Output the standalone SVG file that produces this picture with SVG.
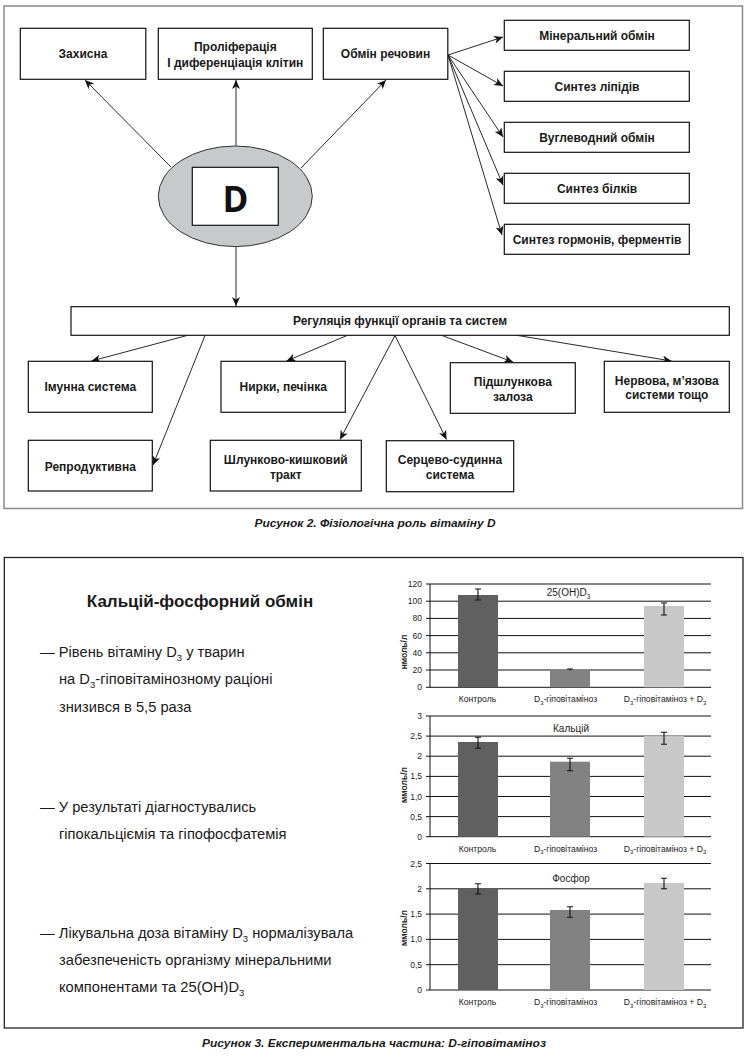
<svg xmlns="http://www.w3.org/2000/svg" width="751" height="1057" viewBox="0 0 751 1057">
<style>
.frame1{fill:none;stroke:#8a8a8a;stroke-width:1.5}
.frame2{fill:none;stroke:#222;stroke-width:1.3}
.box{fill:#fff;stroke:#111;stroke-width:1.2}
.nt{font-family:"Liberation Sans",Arial,sans-serif;font-weight:bold;font-size:12px;fill:#1a1a1a;text-anchor:middle}
.con line{stroke:#111;stroke-width:0.9;marker-end:url(#ah)}
.cap{font-family:"Liberation Sans",Arial,sans-serif;font-weight:bold;font-style:italic;font-size:11.5px;fill:#1a1a1a;text-anchor:middle}
.body{font-family:"Liberation Sans",Arial,sans-serif;font-size:14.7px;fill:#1a1a1a}
.sub{font-size:9.5px}
.grid{stroke:#111;stroke-width:1}
.tick{font-family:"Liberation Sans",Arial,sans-serif;font-size:8.5px;fill:#222;text-anchor:end}
.cat{font-family:"Liberation Sans",Arial,sans-serif;font-size:8.6px;fill:#222;text-anchor:middle}
.cs{font-size:6px}
.ttl{font-family:"Liberation Sans",Arial,sans-serif;font-size:10px;fill:#222;text-anchor:middle}
.ylab{font-family:"Liberation Sans",Arial,sans-serif;font-size:8.5px;font-weight:bold;fill:#222;text-anchor:middle}
.b1{fill:#606060}.b2{fill:#828282}.b3{fill:#c8c8c8}
.err{stroke:#111;stroke-width:1.1;fill:none}
</style>
<defs>
<marker id="ah" markerWidth="10" markerHeight="8" refX="9" refY="4" orient="auto" markerUnits="userSpaceOnUse">
<path d="M0,0 L9,4 L0,8 L2.5,4 z" fill="#111"/>
</marker>
</defs>
<rect x="0" y="0" width="751" height="1057" fill="#fff"/>

<!-- Figure 2 -->
<rect class="frame1" x="4" y="6" width="738.5" height="502.5"/>

<g id="connectors" class="con">
<line x1="171" y1="167" x2="85" y2="80"/>
<line x1="236" y1="146" x2="236" y2="80"/>
<line x1="301" y1="168" x2="386" y2="80"/>
<line x1="448" y1="55" x2="503" y2="37"/>
<line x1="448" y1="55" x2="503" y2="86"/>
<line x1="448" y1="55" x2="503" y2="137"/>
<line x1="448" y1="55" x2="503" y2="185"/>
<line x1="448" y1="55" x2="502" y2="235"/>
<line x1="236" y1="246.5" x2="236" y2="306"/>
<line x1="187" y1="335.5" x2="91.5" y2="361"/>
<line x1="205" y1="335.5" x2="153" y2="465"/>
<line x1="347" y1="335.5" x2="286.5" y2="361"/>
<line x1="395" y1="335.5" x2="340" y2="439.5"/>
<line x1="395" y1="335.5" x2="446.5" y2="439.5"/>
<line x1="442" y1="335.5" x2="513" y2="362"/>
<line x1="518" y1="335.5" x2="671.5" y2="361"/>
</g>

<g id="node-d">
<ellipse cx="235.3" cy="196.3" rx="77" ry="50.3" fill="#c8c9cb" stroke="#333" stroke-width="1"/>
<rect class="box" x="192.3" y="167.3" width="86" height="58"/>
<text x="235.5" y="212" font-family="'Open Sans','Liberation Sans',Arial,sans-serif" font-weight="bold" font-size="35" fill="#111" text-anchor="middle">D</text>
</g>
<g id="node-zakhysna"><rect class="box" x="20.3" y="28.3" width="125.5" height="51"/><text class="nt" x="83" y="58">Захисна</text></g>
<g id="node-prolif"><rect class="box" x="158.3" y="28.3" width="154" height="51"/><text class="nt" x="235.3" y="51">Проліферація</text><text class="nt" x="235.3" y="66.5">І диференціація клітин</text></g>
<g id="node-obmin"><rect class="box" x="323.3" y="28.3" width="124.5" height="51"/><text class="nt" x="385.5" y="58">Обмін речовин</text></g>
<g id="node-mineral"><rect class="box" x="504.3" y="20.3" width="185" height="30"/><text class="nt" x="597" y="39.5">Мінеральний обмін</text></g>
<g id="node-lipid"><rect class="box" x="504.3" y="71.3" width="185" height="30"/><text class="nt" x="597" y="90.5">Синтез ліпідів</text></g>
<g id="node-vuhl"><rect class="box" x="504.3" y="122.3" width="185" height="30"/><text class="nt" x="597" y="141.5">Вуглеводний обмін</text></g>
<g id="node-bilk"><rect class="box" x="504.3" y="173.3" width="185" height="30"/><text class="nt" x="597" y="192.5">Синтез білків</text></g>
<g id="node-hormon"><rect class="box" x="504.3" y="224.3" width="185" height="30"/><text class="nt" x="597" y="243.5">Синтез гормонів, ферментів</text></g>
<g id="node-rehul"><rect class="box" x="71" y="306.7" width="658.3" height="28.6"/><text class="nt" x="400" y="325" textLength="214" lengthAdjust="spacingAndGlyphs">Регуляція функції органів та систем</text></g>
<g id="node-imun"><rect class="box" x="28.3" y="361.3" width="124" height="51"/><text class="nt" x="90.3" y="391">Імунна система</text></g>
<g id="node-nyrky"><rect class="box" x="221" y="361.3" width="124.3" height="51"/><text class="nt" x="283.2" y="391">Нирки, печінка</text></g>
<g id="node-pidshl"><rect class="box" x="450.3" y="362.7" width="125" height="50.6"/><text class="nt" x="512.8" y="385.5">Підшлункова</text><text class="nt" x="512.8" y="400.5">залоза</text></g>
<g id="node-nerv"><rect class="box" x="604.3" y="361.3" width="125" height="51"/><text class="nt" x="666.8" y="384.5">Нервова, м’язова</text><text class="nt" x="666.8" y="399">системи тощо</text></g>
<g id="node-reprod"><rect class="box" x="28.3" y="440.3" width="124" height="50.7"/><text class="nt" x="90.3" y="471">Репродуктивна</text></g>
<g id="node-shlunk"><rect class="box" x="210.3" y="440.3" width="151" height="50.7"/><text class="nt" x="285.8" y="463.5">Шлунково-кишковий</text><text class="nt" x="285.8" y="478.5">тракт</text></g>
<g id="node-sertse"><rect class="box" x="386.3" y="440.7" width="127.4" height="51"/><text class="nt" x="450" y="464">Серцево-судинна</text><text class="nt" x="450" y="479">система</text></g>

<text class="cap" x="375" y="527" textLength="241" lengthAdjust="spacingAndGlyphs">Рисунок 2. Фізіологічна роль вітаміну D</text>

<!-- Figure 3 -->
<rect class="frame2" x="4.3" y="557.5" width="738.7" height="470.5"/>

<g id="text-block">
<text x="200" y="607" font-family="'Liberation Sans',Arial,sans-serif" font-weight="bold" font-size="17" fill="#1a1a1a" text-anchor="middle">Кальцій-фосфорний обмін</text>
<text class="body" x="40" y="657">— Рівень вітаміну D<tspan class="sub" dy="3.5">3</tspan><tspan dy="-3.5"> у тварин</tspan></text>
<text class="body" x="59" y="684">на D<tspan class="sub" dy="3.5">3</tspan><tspan dy="-3.5">-гіповітамінозному раціоні</tspan></text>
<text class="body" x="59" y="711.5">знизився в 5,5 раза</text>
<text class="body" x="40" y="811.5">— У результаті діагностувались</text>
<text class="body" x="59" y="839">гіпокальціємія та гіпофосфатемія</text>
<text class="body" x="40" y="938">— Лікувальна доза вітаміну D<tspan class="sub" dy="3.5">3</tspan><tspan dy="-3.5"> нормалізувала</tspan></text>
<text class="body" x="59" y="965">забезпеченість організму мінеральними</text>
<text class="body" x="59" y="992.3">компонентами та 25(OH)D<tspan class="sub" dy="3.5">3</tspan></text>
</g>

<!-- Chart 1 -->
<g id="chart-25oh">
<g class="grid">
<line x1="426" y1="584" x2="711" y2="584"/>
<line x1="426" y1="601.2" x2="711" y2="601.2"/>
<line x1="426" y1="618.4" x2="711" y2="618.4"/>
<line x1="426" y1="635.6" x2="711" y2="635.6"/>
<line x1="426" y1="652.8" x2="711" y2="652.8"/>
<line x1="426" y1="670" x2="711" y2="670"/>
<line x1="426" y1="687.3" x2="711" y2="687.3"/>
<line x1="430" y1="584" x2="430" y2="687.3"/>
</g>
<rect class="b1" x="458" y="595" width="40" height="92.3"/>
<rect class="b2" x="550" y="670" width="40" height="17.3"/>
<rect class="b3" x="644" y="606" width="40" height="81.3"/>
<path class="err" d="M478,589 V600 M475,589 H481 M475,600 H481"/>
<path class="err" d="M570,669 V670.5 M567,669 H573"/>
<path class="err" d="M664,603 V615 M661,603 H667 M661,615 H667"/>
<text class="tick" x="422" y="587">120</text>
<text class="tick" x="422" y="604.2">100</text>
<text class="tick" x="422" y="621.4">80</text>
<text class="tick" x="422" y="638.6">60</text>
<text class="tick" x="422" y="655.8">40</text>
<text class="tick" x="422" y="673">20</text>
<text class="tick" x="422" y="690.3">0</text>
<text class="ttl" x="568.5" y="596">25(OH)D<tspan font-size="6.5" dy="2.5">3</tspan></text>
<text class="ylab" transform="translate(407,652) rotate(-90)">нмоль/л</text>
<text class="cat" x="477.5" y="702">Контроль</text>
<text class="cat" x="565.5" y="702">D<tspan class="cs" dy="2.5">3</tspan><tspan dy="-2.5">-гіповітаміноз</tspan></text>
<text class="cat" x="665" y="702">D<tspan class="cs" dy="2.5">3</tspan><tspan dy="-2.5">-гіповітаміноз + D</tspan><tspan class="cs" dy="2.5">3</tspan></text>
</g>

<!-- Chart 2 -->
<g id="chart-calcium">
<g class="grid">
<line x1="426" y1="716" x2="711" y2="716"/>
<line x1="426" y1="736.1" x2="711" y2="736.1"/>
<line x1="426" y1="756.2" x2="711" y2="756.2"/>
<line x1="426" y1="776.4" x2="711" y2="776.4"/>
<line x1="426" y1="796.5" x2="711" y2="796.5"/>
<line x1="426" y1="816.6" x2="711" y2="816.6"/>
<line x1="426" y1="836.7" x2="711" y2="836.7"/>
<line x1="430" y1="716" x2="430" y2="836.7"/>
</g>
<rect class="b1" x="458" y="742" width="40" height="94.7"/>
<rect class="b2" x="550" y="761.7" width="40" height="75"/>
<rect class="b3" x="644" y="736.1" width="40" height="100.6"/>
<path class="err" d="M478,737.3 V748.3 M475,737.3 H481 M475,748.3 H481"/>
<path class="err" d="M570,758.3 V770.7 M567,758.3 H573 M567,770.7 H573"/>
<path class="err" d="M664,732.3 V744.3 M661,732.3 H667 M661,744.3 H667"/>
<text class="tick" x="422" y="719">3</text>
<text class="tick" x="422" y="739.1">2,5</text>
<text class="tick" x="422" y="759.2">2</text>
<text class="tick" x="422" y="779.4">1,5</text>
<text class="tick" x="422" y="799.5">1,0</text>
<text class="tick" x="422" y="819.6">0,5</text>
<text class="tick" x="422" y="839.7">0</text>
<text class="ttl" x="571" y="732">Кальцій</text>
<text class="ylab" transform="translate(407,785) rotate(-90)">ммоль/л</text>
<text class="cat" x="477.5" y="851.5">Контроль</text>
<text class="cat" x="565.5" y="851.5">D<tspan class="cs" dy="2.5">3</tspan><tspan dy="-2.5">-гіповітаміноз</tspan></text>
<text class="cat" x="665" y="851.5">D<tspan class="cs" dy="2.5">3</tspan><tspan dy="-2.5">-гіповітаміноз + D</tspan><tspan class="cs" dy="2.5">3</tspan></text>
</g>

<!-- Chart 3 -->
<g id="chart-phosphorus">
<g class="grid">
<line x1="426" y1="863.5" x2="711" y2="863.5"/>
<line x1="426" y1="888.8" x2="711" y2="888.8"/>
<line x1="426" y1="914.1" x2="711" y2="914.1"/>
<line x1="426" y1="939.4" x2="711" y2="939.4"/>
<line x1="426" y1="964.7" x2="711" y2="964.7"/>
<line x1="426" y1="990" x2="711" y2="990"/>
<line x1="430" y1="863.5" x2="430" y2="990"/>
</g>
<rect class="b1" x="458" y="888.5" width="40" height="101.5"/>
<rect class="b2" x="550" y="910" width="40" height="80"/>
<rect class="b3" x="644" y="883" width="40" height="107"/>
<path class="err" d="M478,883.7 V894 M475,883.7 H481 M475,894 H481"/>
<path class="err" d="M570,906.7 V917.3 M567,906.7 H573 M567,917.3 H573"/>
<path class="err" d="M664,878.3 V888.7 M661,878.3 H667 M661,888.7 H667"/>
<text class="tick" x="422" y="866.5">2,5</text>
<text class="tick" x="422" y="891.8">2</text>
<text class="tick" x="422" y="917.1">1,5</text>
<text class="tick" x="422" y="942.4">1,0</text>
<text class="tick" x="422" y="967.7">0,5</text>
<text class="tick" x="422" y="993">0</text>
<text class="ttl" x="571" y="882">Фосфор</text>
<text class="ylab" transform="translate(407,928) rotate(-90)">ммоль/л</text>
<text class="cat" x="477.5" y="1005">Контроль</text>
<text class="cat" x="565.5" y="1005">D<tspan class="cs" dy="2.5">3</tspan><tspan dy="-2.5">-гіповітаміноз</tspan></text>
<text class="cat" x="665" y="1005">D<tspan class="cs" dy="2.5">3</tspan><tspan dy="-2.5">-гіповітаміноз + D</tspan><tspan class="cs" dy="2.5">3</tspan></text>
</g>

<text class="cap" x="374" y="1047" textLength="344" lengthAdjust="spacingAndGlyphs">Рисунок 3. Експериментальна частина: D-гіповітаміноз</text>
</svg>
